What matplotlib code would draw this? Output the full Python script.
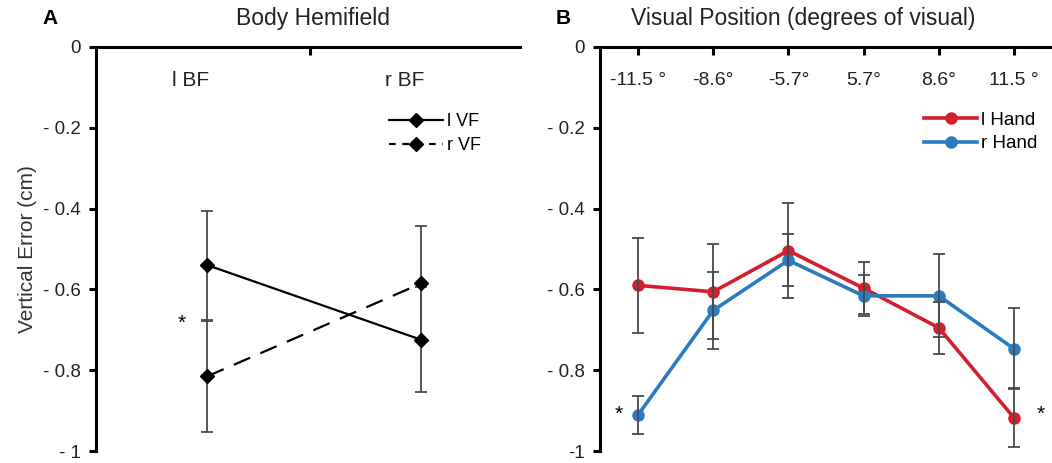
import matplotlib.pyplot as plt
from matplotlib.lines import Line2D

plt.rcParams["font.family"] = ["Liberation Sans", "DejaVu Sans"]

# Panel A: body hemifield
bf_labels = ["l BF", "r BF"]
lvf_mean = [-0.54, -0.725]
lvf_err = [0.135, 0.13]
rvf_mean = [-0.815, -0.585]
rvf_err = [0.138, 0.143]

# Panel B: visual position
vis_labels = ["-11.5 \u00b0", "-8.6\u00b0", "-5.7\u00b0", "5.7\u00b0", "8.6\u00b0", "11.5 \u00b0"]
lhand_mean = [-0.59, -0.606, -0.504, -0.597, -0.695, -0.918]
lhand_err = [0.118, 0.118, 0.117, 0.065, 0.064, 0.073]
rhand_mean = [-0.911, -0.652, -0.528, -0.616, -0.616, -0.747]
rhand_err = [0.048, 0.095, 0.064, 0.051, 0.103, 0.100]

yticks = [0, -0.2, -0.4, -0.6, -0.8, -1]
ytick_labels_a = ["0", "- 0.2", "- 0.4", "- 0.6", "- 0.8", "- 1"]
ytick_labels_b = ["0", "- 0.2", "- 0.4", "- 0.6", "- 0.8", "-1"]

RED = "#d41f2f"
BLUE = "#2c7bbf"
ERR = "#4a4a4a"
TXT = "#222222"

W, H = 1052, 463
fig = plt.figure(figsize=(W / 100, H / 100), dpi=100)


def px_axes(left, right, top, bottom):
    return fig.add_axes([left / W, 1 - bottom / H, (right - left) / W, (bottom - top) / H])


def style_axes(ax, labels):
    for s in ["right", "bottom"]:
        ax.spines[s].set_visible(False)
    for s in ["left", "top"]:
        ax.spines[s].set_linewidth(2.2)
    ax.set_ylim(-1, 0)
    ax.set_yticks(yticks)
    ax.set_yticklabels(labels, fontsize=13.5, color=TXT)
    ax.tick_params(axis="y", direction="out", length=5, width=2.2, pad=6)
    ax.xaxis.tick_top()
    ax.tick_params(axis="x", direction="in", length=6, width=2.2, labeltop=False)


# ---- Panel A ----
axA = px_axes(96, 520, 47, 451)
xa = [0.52, 1.52]
axA.set_xlim(0, 1.98)
style_axes(axA, ytick_labels_a)
axA.set_xticks([1])

axA.errorbar(xa, lvf_mean, yerr=lvf_err, fmt="none", ecolor=ERR, elinewidth=1.3,
             capsize=4.5, capthick=1.3, zorder=2)
axA.errorbar(xa, rvf_mean, yerr=rvf_err, fmt="none", ecolor=ERR, elinewidth=1.3,
             capsize=4.5, capthick=1.3, zorder=2)
axA.plot(xa, lvf_mean, color="black", lw=1.6, marker="D", ms=7, zorder=3)
axA.plot(xa, rvf_mean, color="black", lw=1.6, ls=(0, (8, 5)), marker="D", ms=7, zorder=3)

for x, lab in zip(xa, bf_labels):
    axA.text(x - 0.08, -0.082, lab, ha="center", va="center", fontsize=15, color=TXT)
axA.text(0.4, -0.685, "*", ha="center", va="center", fontsize=15)

handlesA = [
    Line2D([], [], color="black", lw=1.6, marker="D", ms=7),
    Line2D([], [], color="black", lw=1.6, ls=(0, (3, 3)), marker="D", ms=7),
]
axA.legend(handlesA, ["l VF", "r VF"], frameon=False, fontsize=13,
           loc="center left", bbox_to_anchor=(0.67, 0.785), handlelength=3.0,
           handletextpad=0.2, labelspacing=0.4, borderpad=0)

axA.set_ylabel("Vertical Error (cm)", fontsize=15, color="#333333", labelpad=4)
fig.text(313 / W, 1 - 18 / H, "Body Hemifield", ha="center", va="center", fontsize=16.5, color=TXT)
fig.text(50 / W, 1 - 18 / H, "A", ha="center", va="center", fontsize=15, fontweight="bold")

# ---- Panel B ----
axB = px_axes(600, W, 47, 451)
xb = list(range(len(vis_labels)))
axB.set_xlim(-0.505, 5.505)
style_axes(axB, ytick_labels_b)
axB.set_xticks(xb)

axB.errorbar(xb, lhand_mean, yerr=lhand_err, fmt="none", ecolor=ERR, elinewidth=1.3,
             capsize=4.5, capthick=1.3, zorder=4)
axB.errorbar(xb, rhand_mean, yerr=rhand_err, fmt="none", ecolor=ERR, elinewidth=1.3,
             capsize=4.5, capthick=1.3, zorder=4)
axB.plot(xb, lhand_mean, color=RED, lw=2.6, marker="o", ms=8, zorder=3, label="l Hand")
axB.plot(xb, rhand_mean, color=BLUE, lw=2.6, marker="o", ms=8, zorder=3, label="r Hand")

for x, lab in zip(xb, vis_labels):
    axB.text(x, -0.082, lab, ha="center", va="center", fontsize=14, color=TXT)
axB.text(-0.25, -0.91, "*", ha="center", va="center", fontsize=15)
axB.text(5.35, -0.91, "*", ha="center", va="center", fontsize=15)

axB.legend(frameon=False, fontsize=13.5, loc="center left", bbox_to_anchor=(0.697, 0.79),
           handlelength=2.8, handletextpad=0.2, labelspacing=0.35, borderpad=0)

fig.text(803 / W, 1 - 18 / H, "Visual Position (degrees of visual)", ha="center", va="center",
         fontsize=16.5, color=TXT)
fig.text(563 / W, 1 - 18 / H, "B", ha="center", va="center", fontsize=15, fontweight="bold")

fig.savefig("out.png", dpi=100)
